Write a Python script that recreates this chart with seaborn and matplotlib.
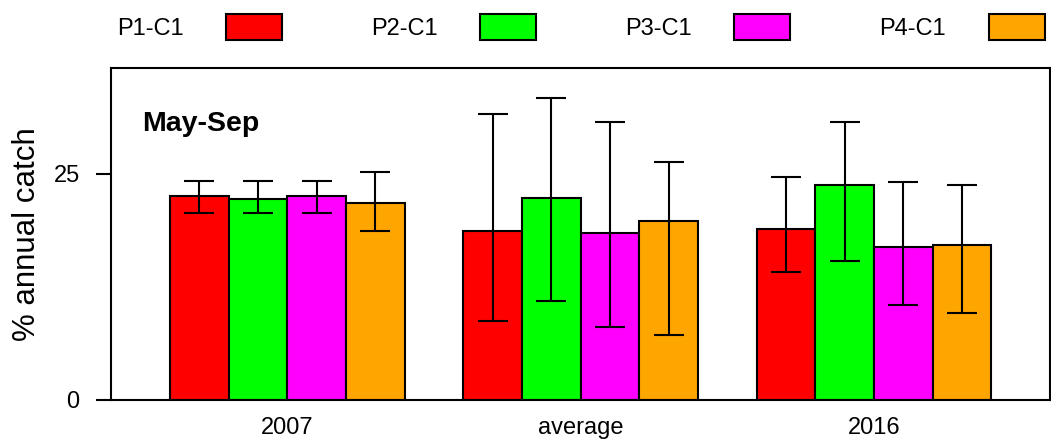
import pandas as pd
import matplotlib
matplotlib.use('Agg')
import matplotlib.pyplot as plt
import matplotlib.patches as mpatches
import seaborn as sns

# groups on the x axis and the four series
groups = ['2007', 'average', '2016']
series = ['P1-C1', 'P2-C1', 'P3-C1', 'P4-C1']
colors = ['#FF0000', '#00FF00', '#FF00FF', '#FFA500']

# bar heights (% annual catch), one list per series across groups
p1 = [22.5, 18.7, 18.95]
p2 = [22.25, 22.3, 23.8]
p3 = [22.5, 18.45, 16.95]
p4 = [21.8, 19.8, 17.15]

# error bar ends
p1_lo = [20.7, 8.75, 14.2]
p1_hi = [24.25, 31.6, 24.7]
p2_lo = [20.7, 10.95, 15.4]
p2_hi = [24.25, 33.4, 30.7]
p3_lo = [20.7, 8.05, 10.5]
p3_hi = [24.25, 30.7, 24.1]
p4_lo = [18.7, 7.15, 9.6]
p4_hi = [25.15, 26.3, 23.8]

y_ticks = [0, 25]

vals = [p1, p2, p3, p4]
lows = [p1_lo, p2_lo, p3_lo, p4_lo]
highs = [p1_hi, p2_hi, p3_hi, p4_hi]

rows = []
for s, v, lo, hi in zip(series, vals, lows, highs):
    for g, val, l, h in zip(groups, v, lo, hi):
        rows.append({'group': g, 'series': s, 'value': val, 'lo': l, 'hi': h})
df = pd.DataFrame(rows)

sns.set_theme(style='white')
plt.rcParams['font.family'] = ['Liberation Sans', 'DejaVu Sans']
plt.rcParams['text.color'] = 'black'
plt.rcParams['axes.labelcolor'] = 'black'
plt.rcParams['xtick.color'] = 'black'
plt.rcParams['ytick.color'] = 'black'

fig, ax = plt.subplots(figsize=(10.51, 4.43), dpi=100)
fig.subplots_adjust(left=0.106, right=0.999, bottom=0.0971, top=0.8465)

sns.barplot(data=df, x='group', y='value', hue='series', order=groups,
            hue_order=series, palette=colors, errorbar=None, width=0.8,
            edgecolor='black', linewidth=1.5, saturation=1, ax=ax)

# error bars placed on the bars seaborn drew
for container, s in zip(ax.containers, series):
    sub = df[df['series'] == s].set_index('group').loc[groups]
    xs = [b.get_x() + b.get_width() / 2 for b in container]
    ys = sub['value'].values
    yerr = [ys - sub['lo'].values, sub['hi'].values - ys]
    ax.errorbar(xs, ys, yerr=yerr, fmt='none', ecolor='black',
                elinewidth=1.5, capsize=10.8, capthick=1.5)

ax.get_legend().remove()
handles = [mpatches.Patch(facecolor=c, edgecolor='black', linewidth=1.5)
           for c in colors]
fig.legend(handles, series, loc='upper left', bbox_to_anchor=(0.111, 0.968),
           ncol=4, frameon=False, markerfirst=False, fontsize=17,
           handlelength=2.37, handleheight=1.31, handletextpad=1.82,
           columnspacing=3.75, borderpad=0, borderaxespad=0)

ax.set_xlim(-0.6, 2.6)
ax.set_ylim(0, 36.7)
ax.set_yticks(y_ticks)
ax.set_xlabel('')
ax.set_ylabel('% annual catch', fontsize=22.5, labelpad=8)
ax.tick_params(axis='y', left=True, length=10.8, width=1.5, pad=12,
               labelsize=17, colors='black')
ax.tick_params(axis='x', bottom=False, length=0, pad=12, labelsize=17,
               colors='black')

for sp in ax.spines.values():
    sp.set_visible(True)
    sp.set_color('black')
    sp.set_linewidth(1.5)

ax.text(0.033, 0.81, 'May-Sep', transform=ax.transAxes, fontsize=20.5,
        fontweight='bold', va='baseline', ha='left', color='black')

fig.savefig('out.png', dpi=100)
